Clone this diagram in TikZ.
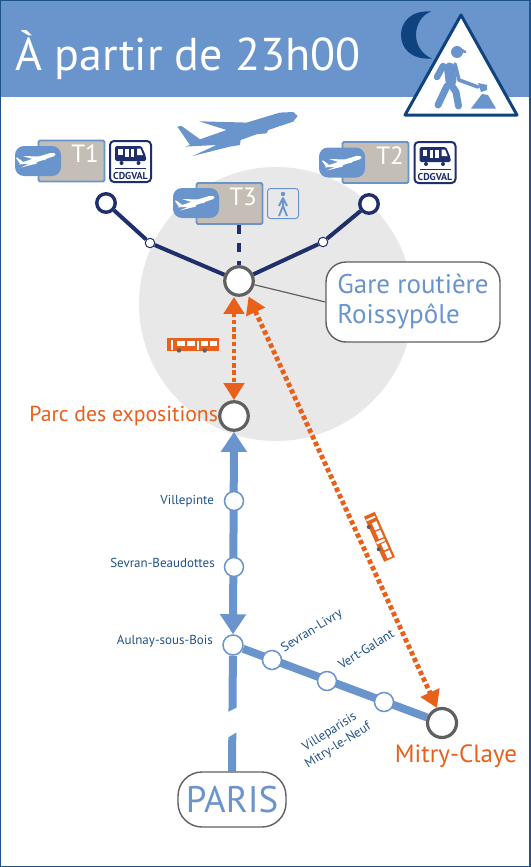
\documentclass[tikz,border=0pt]{standalone}
\usepackage{fontspec}
\setmainfont{PT Sans}
\usetikzlibrary{arrows.meta, positioning, backgrounds}
\definecolor{headblue}{HTML}{6A94CC}
\definecolor{framenavy}{HTML}{1F5288}
\definecolor{linenavy}{HTML}{1E2F6B}
\definecolor{ringgray}{HTML}{606060}
\definecolor{busorange}{HTML}{E8601A}
\definecolor{discgray}{HTML}{E8E8E8}
\definecolor{termgray}{HTML}{C4BEB7}
\definecolor{moonblue}{HTML}{0F437F}
\newcommand{\fsz}[1]{\fontsize{#1}{#1}\selectfont}

\begin{document}
\begin{tikzpicture}[x=1pt, y=-1pt,
    stopbig/.style={circle, draw=ringgray, fill=white, line width=3.2pt, minimum size=28.5pt, inner sep=0pt},
    stoprail/.style={circle, draw=headblue, fill=white, line width=1.5pt, minimum size=19pt, inner sep=0pt},
    stopend/.style={circle, draw=linenavy, fill=white, line width=3.4pt, minimum size=18.5pt, inner sep=0pt},
    stopsmall/.style={circle, draw=linenavy, fill=white, line width=1pt, minimum size=9.5pt, inner sep=0pt},
    stationlabel/.style={text=framenavy, font=\fsz{13}, inner sep=0pt},
    citylabel/.style={text=busorange, inner sep=0pt},
    callout/.style={draw=ringgray, fill=white, line width=1.4pt, rounded corners=20pt, text=headblue, inner sep=0pt},
    termbox/.style={draw=headblue, fill=termgray, line width=1.8pt, rounded corners=1.5pt, minimum width=66pt, minimum height=41pt},
    planebox/.style={fill=headblue, rounded corners=9pt, minimum width=46pt, minimum height=30pt},
    termlabel/.style={text=white, font=\fsz{25}, inner sep=0pt},
    trainbox/.style={draw=linenavy, fill=white, line width=2pt, rounded corners=4pt, minimum size=41pt},
    railline/.style={draw=headblue, line width=8pt},
    navyline/.style={draw=linenavy, line width=4pt},
    busarrow/.style={draw=busorange, line width=4.8pt, dash pattern=on 4.4pt off 2.8pt,
        {Triangle[length=17pt,width=20pt]}-{Triangle[length=17pt,width=20pt]}},
    pics/planeshape/.style={code={
        \path[pic actions] (59.3,-17.3) -- (55,-21.3) -- (41.7,-20.7) -- (8.3,-10.7) -- (-39.3,-12)
            -- (-11.7,-3.3) -- (-38.3,6) -- (-56.7,-7.3) -- (-61,-6.7) -- (-48.3,11.7) -- (-53.3,13.3)
            -- (-21.7,11.7) -- (-45.7,22.7) -- (-8.3,13.3) -- (1.7,11.7) -- (2.3,6.7) -- (18.3,1)
            -- (28.3,0) -- (30,-3.3) -- (55,-11.7) -- cycle;
    }},
    pics/trainicon/.style={code={
        \fill[linenavy, rounded corners=1.5pt] (-15.5,-15.5) -- (11,-15.5) -- (15.5,-5) -- (15.5,-0.5) -- (-15.5,-0.5) -- cycle;
        \fill[white] (-12.5,-13) rectangle (-8,-6.5);
        \fill[white] (-5.5,-13) rectangle (-2,-4.5);
        \fill[white] (0,-13) rectangle (3.5,-4.5);
        \fill[white] (6.5,-13) -- (10,-13) -- (12.5,-6.5) -- (6.5,-6.5) -- cycle;
        \fill[linenavy] (-9,1.5) circle (2pt) (8,1.5) circle (2pt);
        \draw[linenavy, line width=.8pt] (-15.5,7) -- (15.5,7);
        \node[text=linenavy, font=\fsz{10}\bfseries, inner sep=0pt] (-name) at (0,14.5) {CDGVAL};
    }},
    pics/busicon/.style={code={
        \fill[busorange] (-26,-6.7) rectangle (26,5.7);
        \fill[white] (-22.3,-5) rectangle (-20.3,5);
        \fill[white] (3.7,-4.3) rectangle (6.3,5);
        \foreach \wx/\wy in {-16.3/-8, -6.3/2, 7.7/15, 17/24.3} {
            \fill[white] (\wx,-4.3) rectangle (\wy,1);
        }
        \fill[ringgray] (-14,5.5) circle (2.2pt) (11.7,5.5) circle (2.2pt);
    }}
]
    \useasboundingbox (0,0) rectangle (530,867);
    \fill[headblue] (0,0) rectangle (530,97);
    \draw[framenavy, line width=2pt] (0,0) rectangle (530,867);
    \node[text=white, font=\fsz{46}, anchor=west, inner sep=0pt] (title) at (15,55) {À partir de 23h00};

    % moon and roadworks sign
    \fill[moonblue] (431,11.5) .. controls (411,10) and (401,22) .. (401,35) .. controls (401,49) and (412,60) .. (432,58.5)
        .. controls (423,55) and (416,46) .. (416,35) .. controls (416,24) and (422,15) .. (431,11.5);
    \draw[moonblue, fill=white, line width=3pt, line join=round] (461,15) -- (517,115) -- (405,115) -- cycle;
    \begin{scope}[headblue]
        \fill (457,52) circle (6pt);
        \fill (457,46) -- (466,51) -- (466,53) -- (457,52) -- cycle;
        \draw[line width=11pt, line cap=round] (449.5,68) -- (451,81);
        \draw[line width=6.5pt, line cap=round] (443,66) -- (437,77);
        \draw[line width=7pt, line cap=round] (447,86) -- (438,105);
        \draw[line width=7pt, line cap=round, line join=round] (452,86) -- (456,92) -- (458.5,106);
        \draw[line width=3.6pt, line cap=round, line join=round] (455,64) -- (459,80) -- (478,87);
        \fill (478,83) -- (487,85) -- (487,90) -- (481,92) -- cycle;
        \fill[line join=round] (471,108.5) -- (482,94) -- (488,95) -- (496,108.5) -- cycle;
    \end{scope}

    % stops
    \node[stopend] (stopA) at (106,203) {};
    \node[stopend] (stopB) at (369,204) {};
    \node[stopsmall] (midA) at (150,243) {};
    \node[stopsmall] (midB) at (323,242) {};
    \node[stopbig] (hub) at (239,281) {};
    \node[stopbig] (parc) at (234,416) {};
    \node[stoprail] (villepinte) at (234,501) {};
    \node[stoprail] (beaudottes) at (234,567) {};
    \node[stoprail, minimum size=20pt] (aulnay) at (233,645) {};
    \node[stoprail] (livry) at (272,660) {};
    \node[stoprail] (galant) at (327,681) {};
    \node[stoprail] (villeparisis) at (384,702) {};
    \node[stopbig, minimum size=29pt] (mitry) at (442,723) {};

    % terminals
    \node[termbox] (boxA) at (71.5,161) {};
    \node[planebox] (planeA) at (38,161) {};
    \pic[fill=white, scale=.33] at (36,160) {planeshape};
    \node[termlabel] (labelA) at (85,154) {T1};
    \node[trainbox] (trainA) at (130.5,161.5) {};
    \pic (iconA) at (130.5,161.5) {trainicon};

    \node[termbox] (boxC) at (229.5,203.5) {};
    \node[planebox] (planeC) at (196,203) {};
    \pic[fill=white, scale=.33] at (195,203) {planeshape};
    \node[termlabel] (labelC) at (243,197) {T3};
    \node[draw=headblue, line width=1pt, rounded corners=3pt, minimum width=31pt, minimum height=30pt] (walk) at (283,203.5) {};
    \fill[headblue] (283,194) circle (2.2pt);
    \draw[headblue, line width=1.8pt, line join=round] (279,206) -- (283,198) -- (287,206) (279,216) -- (283,206) -- (287,216) (283,198) -- (283,206);

    \node[termbox] (boxB) at (375.5,162.5) {};
    \node[planebox] (planeB) at (342,162.5) {};
    \pic[fill=white, scale=.33] at (342,163) {planeshape};
    \node[termlabel] (labelB) at (390,156) {T2};
    \node[trainbox] (trainB) at (435,162.5) {};
    \pic (iconB) at (435,162.5) {trainicon};

    \pic[fill=headblue] at (238.3,133.3) {planeshape};

    % labels
    \node[callout, minimum width=174pt, minimum height=80pt, align=left, font=\fsz{27}] (gare) at (413,302) {Gare routière\\[3pt]Roissypôle};
    \node[citylabel, font=\fsz{21.7}, left=0pt of parc] (parcname) {Parc des expositions};
    \node[citylabel, font=\fsz{25}] (mitryname) at (456,756) {Mitry-Claye};
    \node[stationlabel, left=9.5pt of villepinte] (villepintename) {Villepinte};
    \node[stationlabel, anchor=east] (beaudottesname) at (215,563) {Sevran-Beaudottes};
    \node[stationlabel, anchor=east] (aulnayname) at (213,641) {Aulnay-sous-Bois};
    \node[stationlabel, rotate=32] (livryname) at (312,631) {Sevran-Livry};
    \node[stationlabel, rotate=32] (galantname) at (366,649) {Vert-Galant};
    \node[stationlabel, rotate=32, align=center] (villeparisisname) at (334,739) {Villeparisis\\[3pt]Mitry-le-Neuf};
    \node[callout, minimum width=108pt, minimum height=55pt, rounded corners=24pt, font=\fsz{37}] (paris) at (232,799.5) {PARIS};

    % buses
    \pic at (193,345) {busicon};
    \pic[rotate=-66, scale=.95] at (379,537) {busicon};

    \begin{scope}[on background layer]
        \fill[white] (0,0) rectangle (530,867);
        \fill[headblue] (0,0) rectangle (530,97);
        \fill[discgray] (276,304) circle (137pt);
        \draw[navyline] (stopA) -- (midA) -- (hub) -- (midB) -- (stopB);
        \draw[navyline, line width=4.5pt, dash pattern=on 9pt off 9pt] (boxC.south -| hub) -- (hub);
        \draw[ringgray, line width=1.2pt] (hub) -- (gare.west);
        \draw[railline, {Triangle[length=20pt,width=25pt]}-{Triangle[length=20pt,width=25pt]}] (parc.south) -- (aulnay.north);
        \draw[railline] (aulnay) -- (mitry);
        \draw[railline] (paris.north) -- (aulnay);
        \fill[white] (222,715) -- (242,705) -- (242,729) -- (222,741) -- cycle;
    \end{scope}
    \draw[busarrow] (parc |- hub.south) -- (parc.north);
    \draw[busarrow] ([shift={(3,1)}]hub.center) ++(6.6,14.5) -- ([shift={(-5,-15)}]mitry.center);
\end{tikzpicture}
\end{document}
